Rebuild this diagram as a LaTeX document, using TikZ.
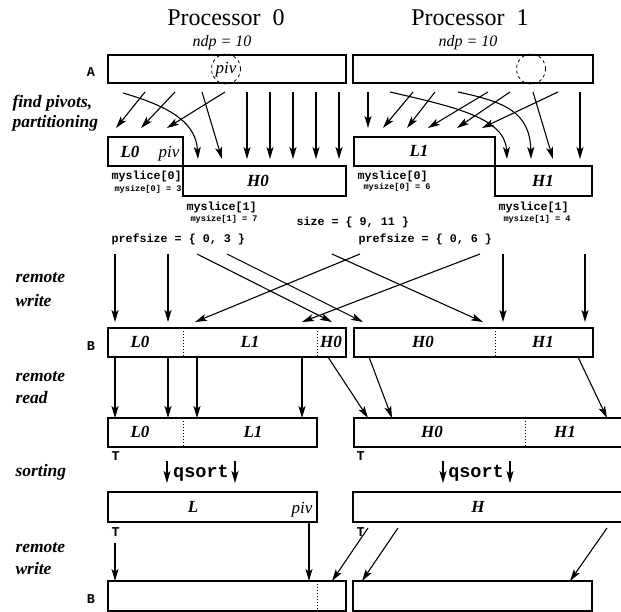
\documentclass[tikz,border=0pt]{standalone}
\usepackage{fontspec}
\setmainfont{Liberation Serif}
\setmonofont{Liberation Mono}
\usetikzlibrary{arrows.meta,fit,shapes.geometric}
\begin{document}
\begin{tikzpicture}[x=1pt,y=-1pt,
  blk/.style={draw, line width=1.3pt, inner sep=0pt},
  arr/.style={-{Stealth[length=12pt,width=7pt,inset=2.8pt]}, line width=1.1pt},
  divider/.style={dotted, line width=1pt},
  title/.style={font=\fontsize{24}{28}\selectfont, anchor=base},
  ndp/.style={font=\fontsize{16}{19}\selectfont\itshape, anchor=base},
  step label/.style={font=\fontsize{17.5}{20}\selectfont\bfseries\itshape, anchor=base west},
  part/.style={font=\fontsize{17}{20}\selectfont\bfseries\itshape},
  pivtext/.style={font=\fontsize{17}{20}\selectfont\itshape, anchor=base},
  arr label/.style={font=\fontsize{13.5}{15}\selectfont\ttfamily\bfseries, anchor=base},
  slice/.style={font=\fontsize{11.7}{14}\selectfont\ttfamily\bfseries, anchor=base west},
  size label/.style={font=\fontsize{8.6}{10}\selectfont\ttfamily\bfseries, anchor=base west},
  sort label/.style={font=\fontsize{18.5}{21}\selectfont\ttfamily\bfseries, anchor=base},
  ring/.style={draw, dashed, line width=0.8pt, ellipse, minimum width=29pt, minimum height=30pt, inner sep=0pt}
]
\useasboundingbox (0,0) rectangle (621,612);

% ---------- headings ----------
\node[title] (p0) at (226,26) {Processor~ 0};
\node[title] (p1) at (470,26) {Processor~ 1};
\node[ndp] (n0) at (222,47) {ndp = 10};
\node[ndp] (n1) at (468,47) {ndp = 10};

% ---------- step labels ----------
\node[step label] (s1a) at (9,108) {find pivots,};
\node[step label] (s1b) at (9,128) {partitioning};
\node[step label] (s2a) at (12,283) {remote};
\node[step label] (s2b) at (12,307) {write};
\node[step label] (s3a) at (12,381) {remote};
\node[step label] (s3b) at (12,403) {read};
\node[step label] (s4) at (12,476) {sorting};
\node[step label] (s5a) at (12,552) {remote};
\node[step label] (s5b) at (12,574) {write};

% ---------- array A ----------
\node[arr label] (lA) at (91,77) {A};
\node[blk, fit={(108,55) (346,83)}] (A0) {};
\node[blk, fit={(353,55) (593,83)}] (A1) {};
\node[ring] (r0) at (226,69) {};
\node[pivtext] (pv0) at (226,74) {piv};
\node[ring] (r1) at (531,69) {};

% ---------- partition boxes ----------
\node[blk, fit={(108,137) (183,166)}] (L0) {};
\node[blk, fit={(183,166) (346,196)}] (H0) {};
\node[blk, fit={(354,137) (495,166)}] (L1) {};
\node[blk, fit={(495,166) (592,196)}] (H1) {};
\node[part, anchor=base] (tL0) at (130,158) {L0};
\node[pivtext] (tpiv0) at (169,158) {piv};
\node[part] (tH0) at (258,181) {H0};
\node[part] (tL1) at (419,151) {L1};
\node[part] (tH1) at (543,181) {H1};

% partitioning arrows, processor 0
\draw[arr] (123,93) .. controls (175,108) and (196,125) .. (198,159);
\draw[arr] (145,92) -- (116,128);
\draw[arr] (175,92) -- (141,128);
\draw[arr] (225,92) -- (167,128);
\draw[arr] (202,92) -- (222,159);
\foreach \x in {247,270,293,316,339}
  \draw[arr] (\x,92) -- (\x,159);

% partitioning arrows, processor 1
\draw[arr] (368,92) -- (368,128);
\draw[arr] (413,92) -- (383,128);
\draw[arr] (435,92) -- (407,128);
\draw[arr] (488,92) -- (428,128);
\draw[arr] (510,92) -- (457,128);
\draw[arr] (558,92) -- (482,128);
\draw[arr] (390,92) .. controls (455,107) and (505,118) .. (507,159);
\draw[arr] (458,92) .. controls (505,102) and (530,112) .. (531,159);
\draw[arr] (533,92) -- (553,159);
\draw[arr] (580,92) -- (580,159);

% ---------- slice annotations ----------
\node[slice] (ms00) at (108,180) {myslice[0]};
\node[size label] (sz00) at (111,192) {mysize[0] = 3};
\node[slice] (ms01) at (183,211) {myslice[1]};
\node[size label] (sz01) at (187,222) {mysize[1] = 7};
\node[slice] (ms10) at (354,180) {myslice[0]};
\node[size label] (sz10) at (360,190) {mysize[0] = 6};
\node[slice] (ms11) at (495,211) {myslice[1]};
\node[size label] (sz11) at (500,222) {mysize[1] = 4};
\node[slice] (size) at (293,226) {size = \{ 9, 11 \}};
\node[slice] (pf0) at (108,243) {prefsize = \{ 0, 3 \}};
\node[slice] (pf1) at (355,243) {prefsize = \{ 0, 6 \}};

% ---------- remote write into B ----------
\draw[arr] (115,254) -- (115,322);
\draw[arr] (168,254) -- (168,322);
\draw[arr] (197,254) -- (332,322);
\draw[arr] (227,254) -- (363,322);
\draw[arr] (360,254) -- (195,322);
\draw[arr] (480,254) -- (302,322);
\draw[arr] (332,254) -- (483,322);
\draw[arr] (503,254) -- (503,322);
\draw[arr] (585,254) -- (585,322);

\node[arr label] (lB) at (91,350) {B};
\node[blk, fit={(108,328) (346,357)}] (B0) {};
\node[blk, fit={(354,328) (593,357)}] (B1) {};
\draw[divider] (183,328) -- (183,357);
\draw[divider] (317,328) -- (317,357);
\draw[divider] (495,328) -- (495,357);
\node[part] (bL0) at (140,342) {L0};
\node[part] (bL1) at (250,342) {L1};
\node[part] (bH0) at (331,342) {H0};
\node[part] (bH0b) at (423,342) {H0};
\node[part] (bH1) at (543,342) {H1};

% ---------- remote read into T ----------
\draw[arr] (115,357) -- (115,418);
\draw[arr] (168,357) -- (168,418);
\draw[arr] (197,357) -- (197,418);
\draw[arr] (302,357) -- (302,418);
\draw[arr] (328,357) -- (368,418);
\draw[arr] (369,357) -- (392,418);
\draw[arr] (578,357) -- (607,418);

\node[blk, fit={(108,418) (317,447)}] (T0) {};
\node[blk, fit={(354,418) (630,447)}] (T1) {};
\draw[divider] (183,418) -- (183,447);
\draw[divider] (525,418) -- (525,447);
\node[part] (tT0a) at (140,432) {L0};
\node[part] (tT0b) at (253,432) {L1};
\node[part] (tT1a) at (432,432) {H0};
\node[part] (tT1b) at (565,432) {H1};
\node[arr label, anchor=base west] (lT0) at (108,460) {T};
\node[arr label, anchor=base west] (lT1) at (353,460) {T};

% ---------- local sort ----------
\draw[arr] (167,461) -- (167,483);
\draw[arr] (235,461) -- (235,483);
\draw[arr] (443,461) -- (443,483);
\draw[arr] (510,461) -- (510,483);
\node[sort label] (q0) at (201,477) {qsort};
\node[sort label] (q1) at (476,477) {qsort};

\node[blk, fit={(108,492) (317,522)}] (SL) {};
\node[blk, fit={(353,492) (630,522)}] (SH) {};
\node[part] (tL) at (193,507) {L};
\node[pivtext] (tpiv1) at (302,513) {piv};
\node[part] (tH) at (478,507) {H};
\node[arr label, anchor=base west] (lT2) at (108,536) {T};
\node[arr label, anchor=base west] (lT3) at (353,536) {T};

% ---------- final remote write ----------
\draw[arr] (115,543) -- (115,581);
\draw[arr] (309,522) -- (309,581);
\draw[arr] (368,528) -- (332,581);
\draw[arr] (398,528) -- (362,581);
\draw[arr] (607,528) -- (570,581);

\node[arr label] (lB2) at (91,603) {B};
\node[blk, fit={(108,581) (346,611)}] (F0) {};
\node[blk, fit={(353,581) (592,611)}] (F1) {};
\draw[divider] (317,581) -- (317,611);
\end{tikzpicture}
\end{document}
